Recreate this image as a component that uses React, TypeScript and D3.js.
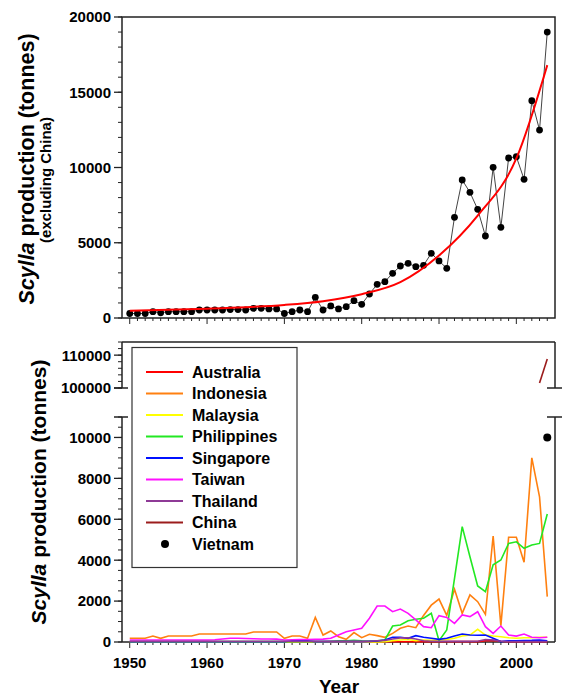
import React from "react";
import * as d3 from "d3";

// Scylla production 1950-2004
const firstYear = 1950;
const years = d3.range(1950, 2005);

// top panel: total excluding China (tonnes)
const totalExChina = [
  300, 300, 300, 420, 350, 420, 420, 420, 420, 530,
  530, 530, 530, 560, 560, 530, 640, 640, 600, 600,
  300, 420, 530, 420, 1375, 530, 800, 600, 750, 1150,
  910, 1595, 2240, 2415, 2970, 3455, 3630, 3410, 3500, 4300,
  3790, 3300, 6690, 9170, 8350, 7220, 5450, 10010, 6025, 10630,
  10720, 9215, 14440, 12490, 19000,
];

// red trend curve, read at 5-year steps
const trendYears = [1950, 1955, 1960, 1965, 1970, 1975, 1980, 1985, 1990, 1995, 2000, 2004];
const trendValues = [480, 540, 620, 720, 870, 1120, 1580, 2380, 4150, 6800, 10600, 16800];

// bottom panel: per country (tonnes)
const australia = [
  0, 0, 0, 0, 0, 0, 0, 0, 0, 0,
  0, 0, 0, 0, 0, 0, 0, 0, 0, 0,
  0, 0, 0, 0, 0, 0, 0, 0, 0, 0,
  0, 10, 10, 10, 10, 10, 10, 20, 20, 20,
  20, 20, 20, 20, 20, 20, 60, 80, 40, 20,
  20, 20, 20, 20, 20,
];
const indonesia = [
  180, 180, 180, 290, 180, 290, 290, 290, 290, 390,
  390, 390, 390, 390, 390, 390, 490, 490, 490, 490,
  180, 290, 290, 180, 1200, 340, 540, 260, 130, 460,
  210, 375, 310, 230, 420, 670, 780, 700, 1300, 1800,
  2100, 1300, 2580, 1400, 2300, 1970, 1350, 5180, 800, 5120,
  5120, 3900, 9000, 7100, 2220,
];
const malaysia = [
  0, 0, 0, 0, 0, 0, 0, 0, 0, 0,
  0, 0, 0, 0, 0, 0, 0, 0, 0, 0,
  0, 0, 0, 0, 0, 0, 0, 0, 0, 0,
  0, 0, 0, 20, 60, 100, 120, 60, 100, 80,
  100, 120, 180, 290, 340, 620, 340, 290, 260, 210,
  180, 210, 210, 230, 230,
];
const philippines = [
  20, 20, 20, 20, 20, 20, 20, 20, 20, 20,
  20, 20, 20, 20, 20, 20, 20, 20, 20, 20,
  20, 20, 20, 20, 20, 20, 40, 60, 60, 80,
  60, 50, 60, 100, 780, 830, 1040, 1110, 1160, 1400,
  65, 590, 3100, 5640, 4170, 2740, 2460, 3770, 4010, 4820,
  4900, 4580, 4740, 4820, 6260,
];
const singapore = [
  10, 10, 10, 10, 10, 10, 10, 10, 10, 10,
  10, 10, 10, 10, 10, 10, 10, 10, 10, 10,
  10, 60, 100, 60, 20, 20, 20, 20, 20, 20,
  20, 30, 50, 100, 230, 230, 180, 310, 230, 180,
  130, 180, 290, 390, 340, 330, 340, 180, 20, 60,
  60, 70, 80, 100, 60,
];
const taiwan = [
  100, 100, 100, 100, 100, 100, 100, 100, 100, 100,
  100, 110, 150, 180, 180, 170, 160, 150, 150, 140,
  100, 110, 120, 120, 130, 140, 180, 340, 500, 590,
  670, 1160, 1760, 1760, 1480, 1610, 1400, 1080, 750, 700,
  1290, 1200, 910, 1320, 1240, 1480, 750, 420, 780, 340,
  290, 390, 230, 210, 230,
];
const thailand = [
  40, 40, 40, 40, 40, 40, 40, 40, 40, 40,
  40, 40, 40, 40, 40, 40, 40, 40, 40, 40,
  40, 30, 30, 30, 30, 30, 30, 30, 30, 30,
  30, 40, 60, 80, 150, 200, 210, 150, 60, 40,
  30, 30, 30, 30, 30, 40, 120, 100, 40, 20,
  20, 20, 20, 20, 20,
];
const chinaYears = [2003, 2004];
const china = [101500, 108800];
const vietnamYears = [2004];
const vietnam = [10000];

const countries = ["Australia", "Indonesia", "Malaysia", "Philippines", "Singapore", "Taiwan", "Thailand", "China", "Vietnam"];
const colors = ["#ff0000", "#ff8010", "#ffff00", "#22e822", "#0010ff", "#ff10ff", "#8e3a96", "#9b1c1c", "#000000"];

const FONT = "'Liberation Sans', Arial, Helvetica, sans-serif";
const INK = "#222";

const x = d3.scaleLinear().domain([1949, 2005]).range([122, 555]);
const yTop = d3.scaleLinear().domain([0, 20000]).range([318, 17]);
const yLow = d3.scaleLinear().domain([0, 11000]).range([642, 417]);
const yUp = d3.scaleLinear().domain([100000, 114000]).range([388, 342]);

const L = 122, R = 555;

function XTicks({ y, labels }: { y: number; labels: boolean }) {
  return (
    <g>
      {years.map((yr) => {
        const major = yr % 10 === 0;
        return <line key={yr} x1={x(yr)} x2={x(yr)} y1={y} y2={y + (major ? 6 : 3)} stroke={INK} strokeWidth={1} />;
      })}
      {labels &&
        years.filter((yr) => yr % 10 === 0).map((yr) => (
          <text key={"l" + yr} x={x(yr)} y={y + 26} textAnchor="middle" fontSize={15} fontWeight="bold" fontFamily={FONT}>
            {yr}
          </text>
        ))}
    </g>
  );
}

function YTicks({ scale, major, minor }: { scale: any; major: number[]; minor: number[] }) {
  return (
    <g>
      {minor.map((v) => (
        <line key={"m" + v} x1={L - 4} x2={L} y1={scale(v)} y2={scale(v)} stroke={INK} strokeWidth={1} />
      ))}
      {major.map((v) => (
        <g key={v}>
          <line x1={L - 8} x2={L} y1={scale(v)} y2={scale(v)} stroke={INK} strokeWidth={1.3} />
          <text x={L - 11} y={scale(v)} dy="0.36em" textAnchor="end" fontSize={15} fontWeight="bold" fontFamily={FONT}>
            {v}
          </text>
        </g>
      ))}
    </g>
  );
}

export default function App() {
  const dataLine = d3.line<number>().x((d, i) => x(firstYear + i)).y((d) => yTop(d));
  const trend = d3
    .line<number>()
    .x((d, i) => x(trendYears[i]))
    .y((d) => yTop(d))
    .curve(d3.curveMonotoneX);
  const lowLine = d3.line<number>().x((d, i) => x(firstYear + i)).y((d) => yLow(d));
  const chinaLine = d3.line<number>().x((d, i) => x(chinaYears[i])).y((d) => yUp(d));
  const series = [australia, indonesia, malaysia, philippines, singapore, taiwan, thailand];

  return (
    <svg width={565} height={697} style={{ position: "absolute", left: 0, top: 0, background: "#fff" }}>
      <defs>
        <clipPath id="clipTop">
          <rect x={L} y={17} width={R - L} height={301} />
        </clipPath>
        <clipPath id="clipLow">
          <rect x={L} y={417} width={R - L} height={226} />
        </clipPath>
        <clipPath id="clipUp">
          <rect x={L} y={342} width={R - L} height={46} />
        </clipPath>
      </defs>

      {/* top panel */}
      <rect x={L} y={17} width={R - L} height={301} fill="none" stroke={INK} strokeWidth={1.5} />
      <YTicks scale={yTop} major={d3.range(0, 20001, 5000)} minor={d3.range(0, 20001, 1000)} />
      <XTicks y={318} labels={false} />
      <g clipPath="url(#clipTop)">
        <path d={dataLine(totalExChina) || ""} fill="none" stroke="#444" strokeWidth={1} />
        {totalExChina.map((v, i) => (
          <circle key={i} cx={x(firstYear + i)} cy={yTop(v)} r={3.4} fill="#000" />
        ))}
        <path d={trend(trendValues) || ""} fill="none" stroke="#ff0000" strokeWidth={2} />
      </g>
      <text transform="translate(26,169) rotate(-90)" dy="0.35em" textAnchor="middle" fontSize={21.5} fontWeight="bold" fontFamily={FONT}>
        <tspan fontStyle="italic">Scylla</tspan> production (tonnes)
      </text>
      <text transform="translate(46,180) rotate(-90)" dy="0.35em" textAnchor="middle" fontSize={15} fontWeight="bold" fontFamily={FONT}>
        (excluding China)
      </text>

      {/* bottom panel, broken y axis */}
      <g stroke={INK} strokeWidth={1.5} fill="none">
        <line x1={L} x2={R} y1={342} y2={342} />
        <line x1={L} x2={R} y1={642} y2={642} />
        <line x1={L} x2={L} y1={342} y2={388} />
        <line x1={L} x2={L} y1={417} y2={642} />
        <line x1={R} x2={R} y1={342} y2={388} />
        <line x1={R} x2={R} y1={417} y2={642} />
        {[388, 417].map((yy) => (
          <g key={yy}>
            <line x1={L - 8} x2={L + 6} y1={yy} y2={yy} />
            <line x1={R - 8} x2={R + 7} y1={yy} y2={yy} />
          </g>
        ))}
      </g>
      <YTicks scale={yLow} major={d3.range(0, 10001, 2000)} minor={d3.range(0, 11001, 500)} />
      <YTicks scale={yUp} major={[100000, 110000]} minor={d3.range(100000, 114001, 2000)} />
      <XTicks y={642} labels={true} />

      <g clipPath="url(#clipLow)">
        {series.map((s, k) => (
          <path key={k} d={lowLine(s) || ""} fill="none" stroke={colors[k]} strokeWidth={1.6} />
        ))}
        {vietnam.map((v, i) => (
          <circle key={i} cx={x(vietnamYears[i])} cy={yLow(v)} r={4} fill={colors[8]} />
        ))}
      </g>
      <g clipPath="url(#clipUp)">
        <path d={chinaLine(china) || ""} fill="none" stroke={colors[7]} strokeWidth={1.6} />
      </g>

      {/* legend */}
      <rect x={132} y={347.5} width={165} height={220} fill="#fff" stroke="#333" strokeWidth={1.2} />
      {countries.map((c, i) => {
        const yy = 372 + i * 21.5;
        return (
          <g key={c}>
            {i < 8 ? (
              <line x1={146} x2={183} y1={yy} y2={yy} stroke={colors[i]} strokeWidth={2} />
            ) : (
              <circle cx={165} cy={yy} r={4} fill={colors[i]} />
            )}
            <text x={192} y={yy} dy="0.36em" fontSize={16} fontWeight="bold" fontFamily={FONT}>
              {c}
            </text>
          </g>
        );
      })}

      <text transform="translate(39,492) rotate(-90)" dy="0.35em" textAnchor="middle" fontSize={21} fontWeight="bold" fontFamily={FONT}>
        <tspan fontStyle="italic">Scylla</tspan> production (tonnes)
      </text>
      <text x={339} y={686} dy="0.35em" textAnchor="middle" fontSize={19} fontWeight="bold" fontFamily={FONT}>
        Year
      </text>
    </svg>
  );
}
